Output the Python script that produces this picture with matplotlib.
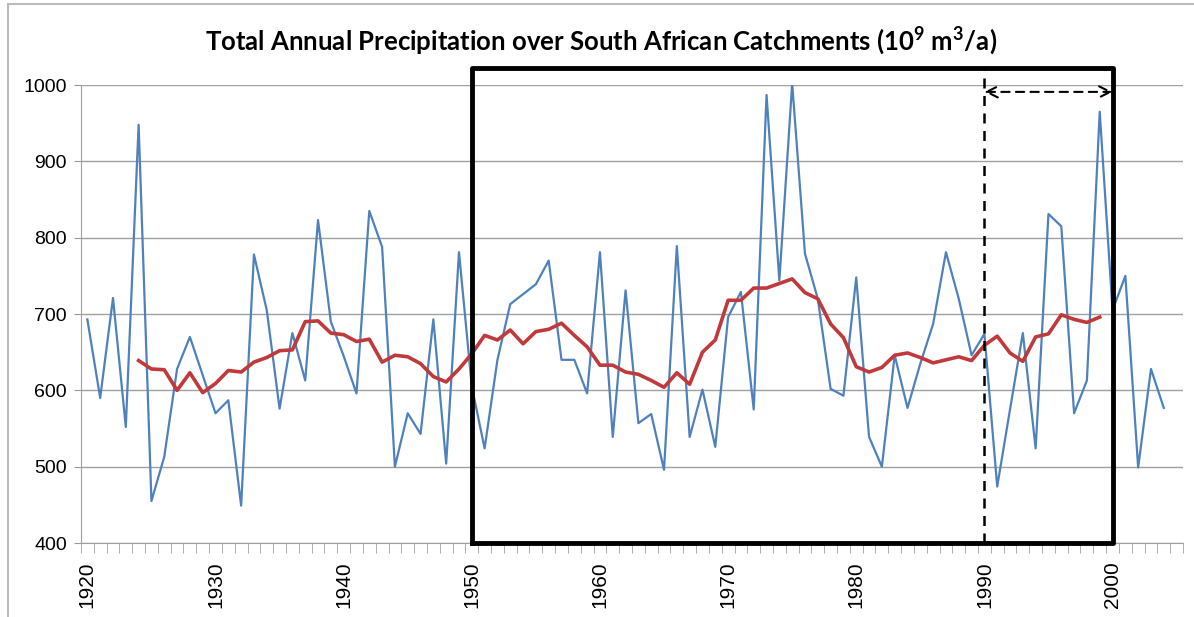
import matplotlib.pyplot as plt
import matplotlib.patches as patches
import numpy as np

plt.rcParams["font.family"] = ["Liberation Sans", "DejaVu Sans"]
plt.rcParams["mathtext.default"] = "regular"

years = np.arange(1920, 2005)
precip = [693, 590, 721, 552, 948, 455, 513, 628, 670, 620,
          570, 587, 449, 778, 705, 576, 675, 613, 823, 690,
          645, 596, 835, 788, 500, 570, 543, 693, 504, 781,
          605, 524, 640, 713, 726, 739, 770, 640, 640, 596,
          781, 539, 731, 557, 569, 496, 789, 539, 601, 526,
          696, 729, 575, 987, 744, 1002, 779, 720, 602, 593,
          748, 539, 500, 646, 577, 635, 687, 781, 720, 646,
          674, 474, 575, 675, 524, 831, 815, 570, 613, 965,
          705, 750, 499, 628, 577]

ma_years = np.arange(1924, 2000)
ma_values = [639, 628, 627, 600, 623, 597, 609, 626, 624, 637,
             643, 652, 653, 690, 691, 675, 673, 664, 667, 637,
             646, 644, 635, 618, 611, 628, 648, 672, 666, 679,
             661, 677, 680, 688, 672, 657, 633, 633, 624, 621,
             613, 604, 623, 608, 650, 666, 718, 718, 734, 734,
             740, 746, 728, 720, 687, 669, 631, 624, 630, 646,
             649, 643, 636, 640, 644, 639, 659, 671, 649, 638,
             670, 674, 699, 693, 689, 696]

decades = np.arange(1920, 2001, 10)
yticks = [400, 500, 600, 700, 800, 900, 1000]

box_x = [1950, 2000]
box_top = 1022
marker_year = 1990
arrow_y = 991

fig = plt.figure(figsize=(11.94, 6.17), dpi=100)
ax = fig.add_axes([0.0678, 0.1199, 0.9230, 0.7423])

ax.plot(years, precip, color="#4F81BD", lw=1.6, zorder=3)
ax.plot(ma_years, ma_values, color="#C0393B", lw=2.6, zorder=4)

ax.set_xlim(1919.5, 2005.5)
ax.set_ylim(400, 1000)

ax.set_yticks(yticks)
ax.tick_params(axis="y", length=5, color="#999999", labelsize=14, pad=5)
ax.yaxis.grid(True, color="#A0A0A0", lw=1)
ax.set_axisbelow(True)

ax.set_xticks(decades)
ax.set_xticklabels([str(d) for d in decades], rotation=90)
ax.set_xticks(np.arange(1919.5, 2006, 1), minor=True)
ax.tick_params(axis="x", which="major", length=0, labelsize=15, pad=13)
ax.tick_params(axis="x", which="minor", length=7, color="#A0A0A0")

for s in ["top", "right"]:
    ax.spines[s].set_visible(False)
for s in ["left", "bottom"]:
    ax.spines[s].set_color("#A0A0A0")

# highlighted period box
ax.plot([box_x[0], box_x[0], box_x[1], box_x[1], box_x[0]],
        [400, box_top, box_top, 400, 400],
        color="black", lw=3.5, clip_on=False, zorder=6)
ax.plot([marker_year, marker_year], [400, box_top], color="black",
        lw=1.8, ls=(0, (4, 3)), clip_on=False, zorder=6)
ax.annotate("", xy=(box_x[1], arrow_y), xytext=(marker_year, arrow_y),
            arrowprops=dict(arrowstyle="<->", ls=(0, (4, 3)), lw=1.5,
                            color="black", shrinkA=0, shrinkB=0,
                            mutation_scale=20),
            annotation_clip=False, zorder=6)

fig.text(0.503, 0.934,
         "Total Annual Precipitation over South African Catchments (10$^9$ m$^3$/a)",
         ha="center", va="center", fontsize=18.5, fontweight="bold",
         family=["Lato", "DejaVu Sans"])

fig.patches.append(patches.Rectangle((0.007, -0.01), 1.0, 1.003,
                                     transform=fig.transFigure, fill=False,
                                     edgecolor="#BBBBBB", lw=1.5))

fig.savefig("out.png", dpi=100)
